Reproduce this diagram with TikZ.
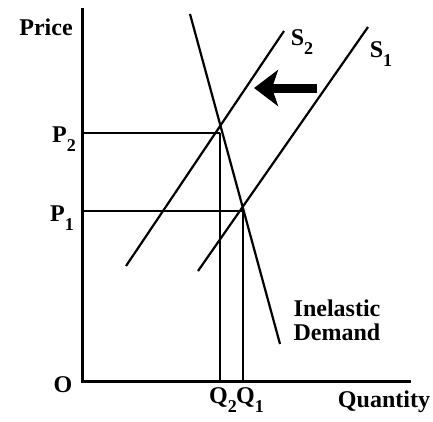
\documentclass[tikz,border=0pt]{standalone}
\usepackage{fontspec}
\setmainfont{Liberation Serif}
\usepackage{tikz}
\usetikzlibrary{positioning}
\usetikzlibrary{arrows.meta}
\tikzset{>=latex}
\tikzstyle{lbl} = [draw=none, inner sep=1, font=\fontsize{24}{24}\selectfont\bfseries]
\tikzstyle{axis} = [-, line width=3pt, line cap=rect]
\tikzstyle{curve} = [-, line width=2.2pt]
\tikzstyle{guide} = [-, line width=1.3pt]
\newcommand{\lowsub}[1]{\raisebox{-0.4em}{\fontsize{18}{18}\selectfont #1}}

\begin{document}
\begin{tikzpicture}[x=1pt, y=-1pt]
\useasboundingbox (0, 0) rectangle (433, 421);
\coordinate (top) at (82, 9);
\coordinate (O) at (82, 381);
\coordinate (right) at (409, 381);
\coordinate (E2) at (220, 133);
\coordinate (E1) at (243, 211);
\coordinate (P2) at (82, 133);
\coordinate (P1) at (82, 211);
\coordinate (Q2) at (220, 381);
\coordinate (Q1) at (243, 381);
\coordinate (Dtop) at (190, 14);
\coordinate (Dbot) at (280, 344);
\coordinate (S2bot) at (126, 266);
\coordinate (S2top) at (284, 31);
\coordinate (S1bot) at (198, 271);
\coordinate (S1top) at (368, 27);
\coordinate (shiftA) at (317, 88);
\coordinate (shiftB) at (254, 88);
\node [lbl] (price) at (46, 27) {Price};
\node [lbl] (quantity) at (384, 402) {Quantity};
\node [lbl] (origin) at (63, 385) {O};
\node [lbl] (p2) at (64, 139) {P\lowsub{2}};
\node [lbl] (p1) at (62, 218) {P\lowsub{1}};
\node [lbl] (q2) at (223, 400) {Q\lowsub{2}};
\node [lbl] (q1) at (250, 400) {Q\lowsub{1}};
\node [lbl] (s2) at (302, 42) {S\lowsub{2}};
\node [lbl] (s1) at (381, 54) {S\lowsub{1}};
\node [lbl, align=center] (dem) at (337, 320) {Inelastic\\Demand};
\draw [axis] (top) to (O);
\draw [axis] (O) to (right);
\draw [guide] (P2) to (E2);
\draw [guide] (P1) to (E1);
\draw [guide] (E2) to (Q2);
\draw [guide] (E1) to (Q1);
\draw [curve] (Dtop) to (Dbot);
\draw [curve] (S2bot) to (S2top);
\draw [curve] (S1bot) to (S1top);
\draw [-{Stealth[width=36pt, length=24pt, inset=6pt]}, line width=9pt] (shiftA) to (shiftB);
\end{tikzpicture}
\end{document}
